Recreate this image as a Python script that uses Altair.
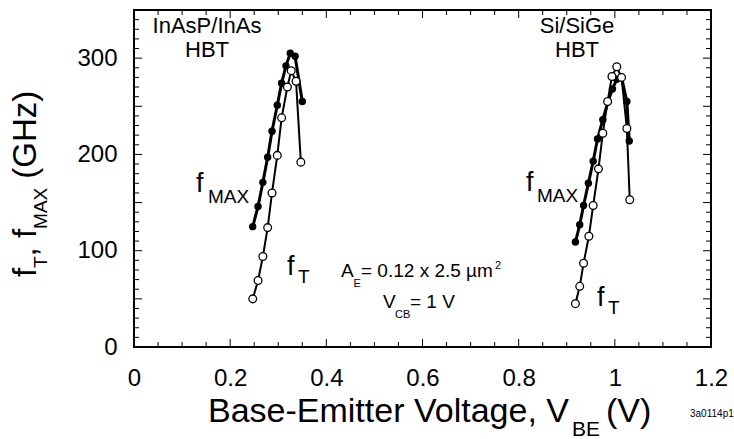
import altair as alt
import pandas as pd

# ---- data ----
left_v_max = [0.247, 0.258, 0.268, 0.278, 0.287, 0.298, 0.307, 0.316, 0.325, 0.335, 0.350]
left_fmax  = [125, 146, 171, 197, 224, 251, 274, 292, 305, 302, 255]
left_v_t   = [0.247, 0.258, 0.268, 0.278, 0.287, 0.298, 0.307, 0.319, 0.327, 0.337, 0.347]
left_ft    = [50, 69, 94, 124, 160, 199, 238, 270, 287, 276, 192]

right_v_max = [0.918, 0.927, 0.935, 0.945, 0.955, 0.964, 0.975, 0.986, 0.995, 1.004, 1.014, 1.025, 1.030]
right_fmax  = [109, 127, 147, 170, 193, 216, 236, 255, 268, 278, 280, 255, 214]
right_v_t   = [0.918, 0.927, 0.935, 0.946, 0.955, 0.966, 0.975, 0.985, 0.994, 1.004, 1.014, 1.025, 1.031]
right_ft    = [45, 63, 87, 115, 147, 185, 222, 255, 281, 291, 280, 227, 153]

x_label_values = [0, 0.2, 0.4, 0.6, 0.8, 1.0, 1.2]
y_label_values = [0, 100, 200, 300]
x_major_ticks = [0.2, 0.4, 0.6, 0.8, 1.0]
x_minor_ticks = [0.05, 0.1, 0.15, 0.25, 0.3, 0.35, 0.45, 0.5, 0.55, 0.65, 0.7, 0.75,
                 0.85, 0.9, 0.95, 1.05, 1.1, 1.15]
y_major_ticks = [50, 100, 150, 200, 250, 300]
y_minor_ticks = [10, 20, 30, 40, 60, 70, 80, 90, 110, 120, 130, 140, 160, 170, 180, 190,
                 210, 220, 230, 240, 260, 270, 280, 290, 310, 320, 330, 340]

W, H = 577, 337
FONT = "Liberation Sans"


def series(vs, fs, device):
    return pd.DataFrame({"v": vs, "f": fs, "device": device, "idx": list(range(len(vs)))})


df_max = pd.concat([series(left_v_max, left_fmax, "InAsP"), series(right_v_max, right_fmax, "SiGe")])
df_t = pd.concat([series(left_v_t, left_ft, "InAsP"), series(right_v_t, right_ft, "SiGe")])

xs = alt.Scale(domain=[0, 1.2], nice=False, zero=False)
ys = alt.Scale(domain=[0, 350], nice=False, zero=False)

x_axis = alt.Axis(values=x_label_values, format="~g", labelFontSize=24, labelFont=FONT,
                  labelColor="black", ticks=False, tickSize=0, domain=False, grid=False,
                  labelPadding=19, title="", labelFlush=False)
y_axis = alt.Axis(values=y_label_values, format="d", labelFontSize=24, labelFont=FONT,
                  labelColor="black", ticks=False, tickSize=0, domain=False, grid=False,
                  labelPadding=17, title="")

X = lambda: alt.X("v:Q", scale=xs, title="")
Y = lambda: alt.Y("f:Q", scale=ys, title="")

line_max = alt.Chart(df_max).mark_line(color="black", strokeWidth=3).encode(
    x=alt.X("v:Q", scale=xs, axis=x_axis, title=""),
    y=alt.Y("f:Q", scale=ys, axis=y_axis, title=""),
    detail="device:N", order="idx:Q")
line_t = alt.Chart(df_t).mark_line(color="black", strokeWidth=2).encode(
    x=X(), y=Y(), detail="device:N", order="idx:Q")
pts_max = alt.Chart(df_max).mark_circle(color="black", size=55, opacity=1).encode(x=X(), y=Y())
pts_t = alt.Chart(df_t).mark_circle(fill="white", stroke="black", strokeWidth=1.3,
                                    size=60, opacity=1).encode(x=X(), y=Y())


def xticks(vals, length):
    d = pd.DataFrame({"v": vals})
    bot = alt.Chart(d).mark_rule(color="black", strokeWidth=1).encode(
        x=X(), y=alt.value(H), y2=alt.value(H - length))
    top = alt.Chart(d).mark_rule(color="black", strokeWidth=1).encode(
        x=X(), y=alt.value(0), y2=alt.value(length))
    return [bot, top]


def yticks(vals, length):
    d = pd.DataFrame({"f": vals})
    lef = alt.Chart(d).mark_rule(color="black", strokeWidth=1).encode(
        y=Y(), x=alt.value(0), x2=alt.value(length))
    rig = alt.Chart(d).mark_rule(color="black", strokeWidth=1).encode(
        y=Y(), x=alt.value(W), x2=alt.value(W - length))
    return [lef, rig]


tick_layers = (xticks(x_major_ticks, 8) + xticks(x_minor_ticks, 5)
               + yticks(y_major_ticks, 8) + yticks(y_minor_ticks, 5))

one = pd.DataFrame({"a": [0]})


def txt(text, x, y, size, align="left", angle=0):
    kw = dict(text=text, font=FONT, fontSize=size, color="black", align=align,
              baseline="alphabetic")
    if angle:
        kw["angle"] = angle
    return alt.Chart(one).mark_text(**kw).encode(x=alt.value(x), y=alt.value(y))


texts = [
    # cluster labels
    txt("InAsP/InAs", 73, 23, 22, "center"),
    txt("HBT", 73, 47, 22, "center"),
    txt("Si/SiGe", 443, 23, 22, "center"),
    txt("HBT", 443, 47, 22, "center"),
    # f_MAX / f_T labels
    txt("f", 62, 182, 27), txt("MAX", 74, 193, 19),
    txt("f", 153, 265, 27), txt("T", 164, 273, 19),
    txt("f", 392, 181, 27), txt("MAX", 403, 192, 19),
    txt("f", 463, 296, 27), txt("T", 474, 304, 19),
    # device annotation
    txt("A", 207, 267, 19), txt("E", 219.5, 277, 11),
    txt("= 0.12 x 2.5 µm", 227, 267, 19), txt("2", 361, 259, 11),
    txt("V", 249, 298, 19), txt("CB", 261, 308, 11),
    txt("= 1 V", 276, 298, 19),
    # x title
    txt("Base-Emitter Voltage, V", 74, 412, 34),
    txt("BE", 438, 426, 21),
    txt("(V)", 472, 412, 34),
    # y title (rotated)
    txt("f", -98, 267, 33, angle=270),
    txt("T", -87, 258, 19, angle=270),
    txt(", f", -98, 246.4, 33, angle=270),
    txt("MAX", -87, 218.9, 19, angle=270),
    txt("(GHz)", -98, 168.7, 33, angle=270),
    # figure id
    txt("3a0114p1", 556, 407, 10),
]

chart = alt.layer(line_max, line_t, pts_max, pts_t, *tick_layers, *texts).properties(
    width=W, height=H,
    autosize=alt.AutoSizeParams(type="none"),
    padding={"left": 134, "top": 10, "right": 23, "bottom": 92},
    background="white",
).configure_view(stroke="black", strokeWidth=2)

chart.save("out.html", embed_options={"renderer": "svg", "actions": False})
